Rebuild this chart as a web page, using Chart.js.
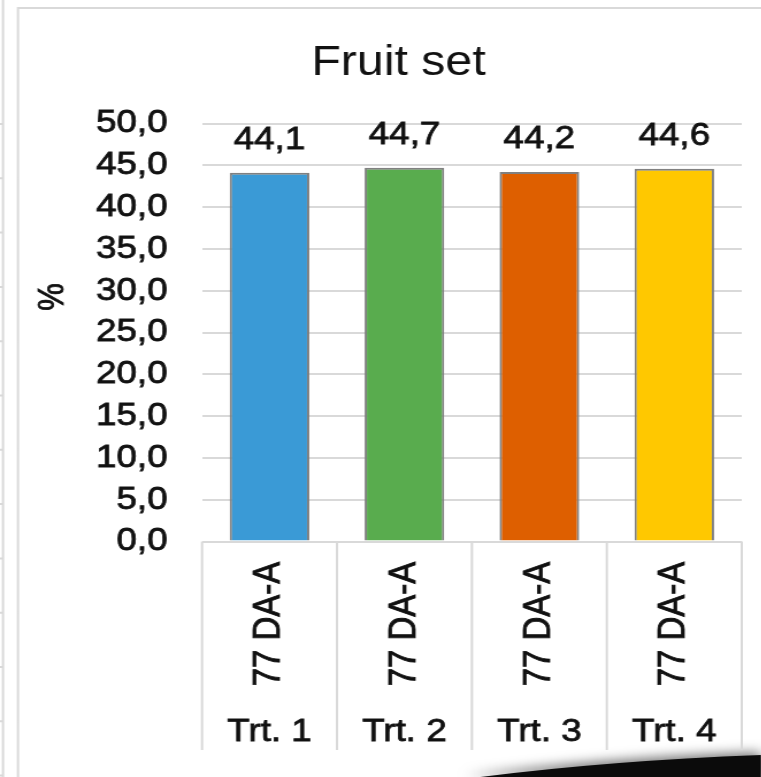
<!DOCTYPE html>
<html>
<head>
<meta charset="utf-8">
<title>Fruit set</title>
<script src="https://cdn.jsdelivr.net/npm/chart.js@4"></script>
<style>
  html, body { margin: 0; padding: 0; background: #fff; overflow: hidden; }
  /* the reference picture is stretched sideways, so the canvas is too */
  #wrap { width: 662px; height: 777px; transform: scaleX(1.15); transform-origin: 0 0; }
  canvas { display: block; }
</style>
</head>
<body>
<div id="wrap"><canvas id="fruitChart" width="662" height="777"></canvas></div>
<script>
// Data
const categories = ['Trt. 1', 'Trt. 2', 'Trt. 3', 'Trt. 4'];
const subLabels = ['77 DA-A', '77 DA-A', '77 DA-A', '77 DA-A'];
const fruitSet = [44.1, 44.7, 44.2, 44.6];
const barColors = ['#3A9AD6', '#59AC4E', '#DE5F00', '#FFC800'];
const yMin = 0;
const yMax = 50;
const yStep = 5;

const SX = 1.15;            // horizontal stretch of the page
const FONT = "'Liberation Sans', Arial, sans-serif";
const GRID = '#d9d9d9';
const INK = '#111';

const fmt = v => v.toFixed(1).replace('.', ',');

Chart.defaults.font.family = FONT;
Chart.defaults.color = INK;

// text with a thin outline, the reference glyphs are a bit heavy
function inkText(ctx, str, x, y) {
    ctx.fillText(str, x, y);
    ctx.strokeText(str, x, y);
}

/**
 * Page bits around the chart: frame lines, neighbour chart edge, shadow
 */
const pageDecor = {
    id: 'pageDecor',
    beforeDraw(chart) {
        const ctx = chart.ctx;
        ctx.save();
        ctx.strokeStyle = GRID;
        ctx.lineWidth = 2;
        ctx.beginPath();
        // neighbour chart edge + its grid stubs
        ctx.moveTo(3 / SX, 0); ctx.lineTo(3 / SX, 777);
        for (let k = 0; k < 13; k++) {
            const y = 124 + k * 54.3;
            ctx.moveTo(0, y); ctx.lineTo(3 / SX, y);
        }
        // this chart's frame
        ctx.moveTo(18 / SX, 777); ctx.lineTo(18 / SX, 8); ctx.lineTo(chart.width, 8);
        ctx.stroke();
        ctx.restore();
    },
    afterDraw(chart) {
        const ctx = chart.ctx;
        ctx.save();
        ctx.shadowColor = 'rgba(0,0,0,0.55)';
        ctx.shadowBlur = 12;
        ctx.shadowOffsetY = -3;
        ctx.fillStyle = '#0b0b0b';
        ctx.beginPath();
        ctx.moveTo(465 / SX, 779);
        ctx.quadraticCurveTo(600 / SX, 761, 761 / SX, 755);
        ctx.lineTo(761 / SX, 779);
        ctx.closePath();
        ctx.fill();
        ctx.restore();
    }
};

/**
 * Value labels, the boxed two-level category axis and the "%" title
 */
const axisLabels = {
    id: 'axisLabels',
    afterDatasetsDraw(chart) {
        const ctx = chart.ctx;
        const meta = chart.getDatasetMeta(0);
        ctx.save();
        ctx.fillStyle = INK;
        ctx.strokeStyle = INK;
        ctx.lineWidth = 0.8;
        ctx.font = `32px ${FONT}`;
        ctx.textAlign = 'center';
        ctx.textBaseline = 'alphabetic';
        meta.data.forEach((bar, i) => {
            inkText(ctx, fmt(fruitSet[i]), bar.x, bar.y - 24);
        });
        ctx.restore();
    },
    afterDraw(chart) {
        const ctx = chart.ctx;
        const area = chart.chartArea;
        const xs = chart.scales.x;
        const cw = (area.right - area.left) / categories.length;
        const boxBottom = 750;

        ctx.save();
        // box lines under the axis
        ctx.strokeStyle = GRID;
        ctx.lineWidth = 2;
        ctx.beginPath();
        for (let i = 0; i <= categories.length; i++) {
            const x = area.left + i * cw;
            ctx.moveTo(x, area.bottom);
            ctx.lineTo(x, boxBottom);
        }
        ctx.stroke();

        ctx.fillStyle = INK;
        ctx.strokeStyle = INK;
        ctx.lineWidth = 0.8;
        ctx.textAlign = 'center';
        ctx.textBaseline = 'middle';
        categories.forEach((cat, i) => {
            const x = xs.getPixelForValue(i);
            // rotated sub label
            ctx.save();
            ctx.translate(x, 624);
            ctx.rotate(-Math.PI / 2);
            ctx.font = `33px ${FONT}`;
            inkText(ctx, subLabels[i], 0, 0);
            ctx.restore();
            // treatment label
            ctx.font = `32px ${FONT}`;
            inkText(ctx, cat, x, 732);
        });

        // y title
        ctx.save();
        ctx.translate(53 / SX, 297);
        ctx.rotate(-Math.PI / 2);
        ctx.font = `31px ${FONT}`;
        inkText(ctx, '%', 0, 0);
        ctx.restore();

        ctx.restore();
    }
};

new Chart(document.getElementById('fruitChart'), {
    type: 'bar',
    data: {
        labels: categories,
        datasets: [{
            label: 'Fruit set',
            data: fruitSet,
            backgroundColor: barColors,
            borderColor: '#808080',
            borderWidth: 2,
            barPercentage: 0.59,
            categoryPercentage: 1
        }]
    },
    options: {
        responsive: false,
        animation: false,
        layout: { padding: { left: 48, right: 17, top: 20, bottom: 235.5 } },
        plugins: {
            legend: { display: false },
            tooltip: { enabled: false },
            title: {
                display: true,
                text: 'Fruit set',
                color: INK,
                font: { size: 42, weight: 'normal', family: FONT },
                padding: { top: 17.8, bottom: 35.3 }
            }
        },
        scales: {
            x: { display: false },
            y: {
                min: yMin,
                max: yMax,
                afterFit(scale) { scale.width = 175.7 - 48; },
                border: { display: false },
                grid: { color: GRID, lineWidth: 2, drawTicks: false },
                ticks: {
                    stepSize: yStep,
                    padding: 30,
                    color: INK,
                    textStrokeColor: INK,
                    textStrokeWidth: 0.8,
                    font: { size: 32 },
                    callback: v => fmt(v)
                }
            }
        }
    },
    plugins: [pageDecor, axisLabels]
});
</script>
</body>
</html>
